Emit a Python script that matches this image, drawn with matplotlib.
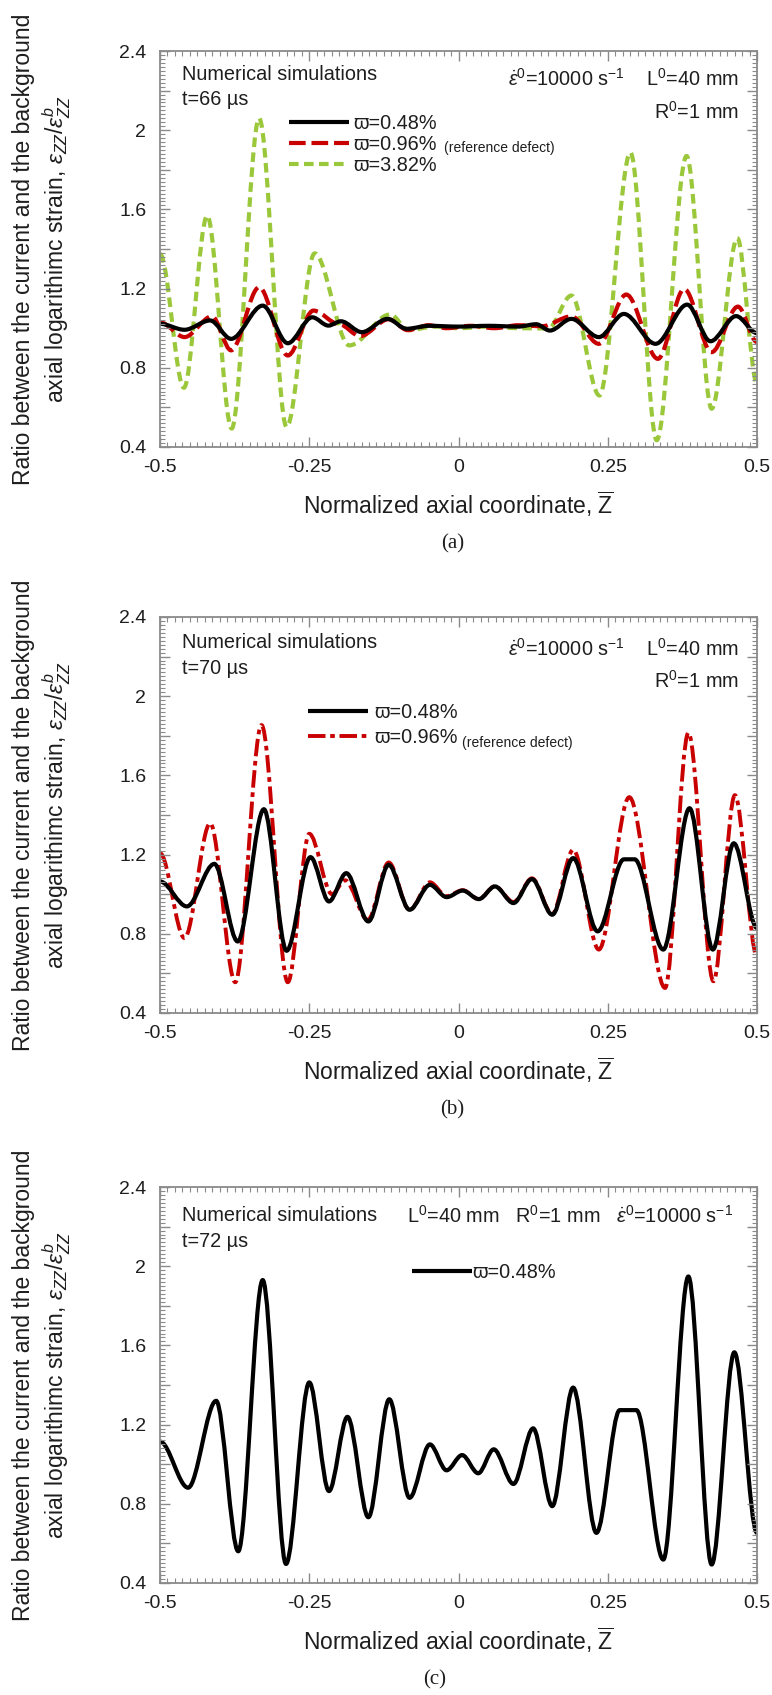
import matplotlib
matplotlib.use("Agg")
import matplotlib.pyplot as plt
from matplotlib.path import Path
from matplotlib.patches import PathPatch
from matplotlib.lines import Line2D
from matplotlib.ticker import MultipleLocator, FuncFormatter

plt.rcParams['font.family'] = ['Liberation Sans', 'DejaVu Sans']
plt.rcParams['mathtext.fontset'] = 'custom'
plt.rcParams['mathtext.rm'] = 'Liberation Sans'
plt.rcParams['mathtext.it'] = 'Liberation Sans:italic'
plt.rcParams['mathtext.bf'] = 'Liberation Sans:bold'

# ---- data: local extrema (Z, ratio) ----
# (a) t = 66 us
a048_z = [-0.5, -0.459, -0.416, -0.381, -0.328, -0.286, -0.245, -0.218, -0.197, -0.162, -0.119,
          -0.087, -0.05, 0.0, 0.05, 0.10, 0.13, 0.153, 0.189, 0.235, 0.277, 0.330, 0.383, 0.422,
          0.465, 0.5]
a048_r = [1.022, 0.992, 1.039, 0.946, 1.114, 0.924, 1.055, 1.013, 1.035, 0.980, 1.047,
          0.997, 1.012, 1.008, 1.012, 1.008, 1.02, 0.988, 1.047, 0.955, 1.072, 0.921, 1.119, 0.934,
          1.061, 0.975]
a096_z = [-0.5, -0.459, -0.413, -0.381, -0.334, -0.286, -0.243, -0.20, -0.165, -0.117, -0.085,
          -0.05, -0.02, 0.02, 0.06, 0.10, 0.14, 0.189, 0.235, 0.281, 0.334, 0.378, 0.424, 0.468, 0.5]
a096_r = [1.03, 0.955, 1.06, 0.888, 1.207, 0.862, 1.089, 1.02, 0.96, 1.045, 0.99,
          1.015, 1.0, 1.012, 1.0, 1.015, 1.01, 1.06, 0.921, 1.17, 0.845, 1.198, 0.879, 1.109, 0.93]
a382_z = [-0.5, -0.46, -0.421, -0.38, -0.334, -0.288, -0.241, -0.183, -0.114, -0.084,
          -0.04, 0.0, 0.05, 0.10, 0.15, 0.189, 0.236, 0.288, 0.332, 0.382, 0.424, 0.467, 0.5]
a382_r = [1.375, 0.699, 1.568, 0.493, 2.06, 0.501, 1.378, 0.913, 1.07, 0.99,
          1.008, 1.0, 1.008, 1.0, 0.998, 1.165, 0.66, 1.887, 0.434, 1.87, 0.593, 1.455, 0.72]

# (b) t = 70 us
b048_z = [-0.5, -0.455, -0.409, -0.370, -0.326, -0.288, -0.248, -0.217, -0.188, -0.151, -0.117,
          -0.082, -0.048, -0.020, 0.007, 0.034, 0.061, 0.092, 0.123, 0.157, 0.192, 0.233, 0.277,
          0.295, 0.343, 0.387, 0.426, 0.461, 0.5]
b048_r = [1.064, 0.938, 1.153, 0.761, 1.429, 0.714, 1.187, 0.963, 1.106, 0.862, 1.148,
          0.921, 1.047, 0.985, 1.018, 0.975, 1.039, 0.955, 1.076, 0.896, 1.182, 0.812, 1.176,
          1.176, 0.72, 1.434, 0.72, 1.257, 0.829]
b096_z = [-0.5, -0.459, -0.416, -0.374, -0.330, -0.286, -0.250, -0.212, -0.19, -0.152, -0.117,
          -0.082, -0.048, -0.020, 0.007, 0.034, 0.061, 0.092, 0.123, 0.157, 0.192, 0.235, 0.286,
          0.346, 0.385, 0.427, 0.463, 0.5]
b096_r = [1.207, 0.778, 1.358, 0.555, 1.854, 0.555, 1.305, 1.0, 1.07, 0.87, 1.16,
          0.92, 1.06, 0.99, 1.02, 0.975, 1.04, 0.96, 1.08, 0.90, 1.224, 0.72, 1.49,
          0.526, 1.815, 0.56, 1.50, 0.686]

# (c) t = 72 us
c048_z = [-0.5, -0.453, -0.406, -0.369, -0.328, -0.289, -0.250, -0.217, -0.186, -0.151, -0.116,
          -0.082, -0.048, -0.020, 0.006, 0.033, 0.059, 0.092, 0.125, 0.157, 0.192, 0.231, 0.270,
          0.298, 0.343, 0.385, 0.424, 0.462, 0.5]
c048_r = [1.114, 0.881, 1.32, 0.56, 1.93, 0.496, 1.413, 0.864, 1.239, 0.732, 1.328,
          0.83, 1.10, 0.969, 1.046, 0.954, 1.075, 0.90, 1.181, 0.788, 1.387, 0.653, 1.273,
          1.273, 0.518, 1.948, 0.493, 1.565, 0.653]

BLACK = '#000000'
RED = '#c80000'
GREEN = '#9bc83a'
FRAME = '#8a8a8a'
TXT = '#1e1e1e'


def curve(ax, z, r, **kw):
    # smooth line through the read extrema (flat tangent at each point)
    verts = [(z[0], r[0])]
    codes = [Path.MOVETO]
    for i in range(1, len(z)):
        d = (z[i] - z[i - 1]) / 3.0
        verts += [(z[i - 1] + d, r[i - 1]), (z[i] - d, r[i]), (z[i], r[i])]
        codes += [Path.CURVE4] * 3
    ax.add_patch(PathPatch(Path(verts, codes), fill=False, capstyle='butt',
                           joinstyle='round', **kw))


def setup(ax):
    ax.set_xlim(-0.5, 0.5)
    ax.set_ylim(0.4, 2.4)
    ax.xaxis.set_major_locator(MultipleLocator(0.25))
    ax.xaxis.set_minor_locator(MultipleLocator(0.0125))
    ax.yaxis.set_major_locator(MultipleLocator(0.2))
    ax.yaxis.set_minor_locator(MultipleLocator(0.02))
    ax.xaxis.set_major_formatter(FuncFormatter(lambda v, p: '%g' % round(v, 3)))
    ax.yaxis.set_major_formatter(FuncFormatter(
        lambda v, p: ('%g' % round(v, 2)) if round(v / 0.4, 3) % 1 == 0 else ''))
    ax.tick_params(which='both', direction='in', top=True, right=True, color=FRAME,
                   labelcolor=TXT, labelsize=14)
    ax.tick_params(which='major', length=7, width=1.0)
    ax.tick_params(which='minor', length=3.5, width=0.8)
    ax.tick_params(axis='x', pad=9)
    ax.tick_params(axis='y', pad=10)
    for s in ax.spines.values():
        s.set_color(FRAME)
        s.set_linewidth(1.3)
    ax.set_xlabel(r'Normalized axial coordinate, $\overline{\mathrm{Z}}$', fontsize=16.5,
                  color=TXT, va='center')
    ax.xaxis.set_label_coords(0.5, -0.144)


fig = plt.figure(figsize=(7.72, 16.95), dpi=100)
L, W, H = 0.2073, 0.7733, 0.2336
ax_a = fig.add_axes([L, 0.7363, W, H])
ax_b = fig.add_axes([L, 0.4024, W, H])
ax_c = fig.add_axes([L, 0.0661, W, H])

ylab = ('Ratio between the current and the background\n'
        r'axial logarithimc strain, $\varepsilon_{ZZ}/\varepsilon_{ZZ}^{b}$')

s_black = dict(edgecolor=BLACK, lw=3.0, linestyle='-')
s_red_a = dict(edgecolor=RED, lw=3.0, linestyle=(0, (4.0, 1.4)))
s_red_b = dict(edgecolor=RED, lw=2.8, linestyle=(0, (4.5, 1.2, 1.2, 1.2)))
s_green = dict(edgecolor=GREEN, lw=3.0, linestyle=(0, (2.3, 1.3)))


def handle(st):
    return Line2D([], [], color=st['edgecolor'], lw=st['lw'], linestyle=st['linestyle'],
                  solid_capstyle='butt', dash_capstyle='butt')


for ax, cap, cx in [(ax_a, '(a)', 0.49), (ax_b, '(b)', 0.49), (ax_c, '(c)', 0.46)]:
    setup(ax)
    pos = ax.get_position()
    fig.text(0.055, pos.y0 + pos.height / 2, ylab, rotation=90, ha='center', va='center',
             multialignment='center', fontsize=16.5, color=TXT, linespacing=1.25)
    ax.text(cx, -0.245, cap, transform=ax.transAxes,
            ha='center', va='center', fontsize=15, family='Liberation Serif', color=TXT)

# (a)
curve(ax_a, a382_z, a382_r, **s_green)
curve(ax_a, a096_z, a096_r, **s_red_a)
curve(ax_a, a048_z, a048_r, **s_black)
ax_a.text(0.036, 0.940, 'Numerical simulations', transform=ax_a.transAxes, fontsize=14.3,
          va='center', color=TXT)
ax_a.text(0.036, 0.877, 't=66 µs', transform=ax_a.transAxes, fontsize=14.3, va='center', color=TXT)
ax_a.text(0.970, 0.929, r'$\dot{\varepsilon}^{0}$=10000 s$^{-1}$    L$^{0}$=40 mm',
          transform=ax_a.transAxes, fontsize=14.3, ha='right', va='center', color=TXT)
ax_a.text(0.970, 0.846, r'R$^{0}$=1 mm', transform=ax_a.transAxes, fontsize=14.3, ha='right',
          va='center', color=TXT)
ax_a.legend([handle(s_black), handle(s_red_a), handle(s_green)],
            ['ϖ=0.48%', 'ϖ=0.96%', 'ϖ=3.82%'], loc='upper left', bbox_to_anchor=(0.216, 0.840),
            frameon=False, fontsize=14.3, handlelength=3.0, handletextpad=0.25,
            labelspacing=0.1, borderpad=0, borderaxespad=0, labelcolor=TXT)
ax_a.text(0.475, 0.755, '(reference defect)', transform=ax_a.transAxes, fontsize=10,
          va='center', color=TXT)

# (b)
curve(ax_b, b096_z, b096_r, **s_red_b)
curve(ax_b, b048_z, b048_r, **s_black)
ax_b.text(0.036, 0.935, 'Numerical simulations', transform=ax_b.transAxes, fontsize=14.3,
          va='center', color=TXT)
ax_b.text(0.036, 0.869, 't=70 µs', transform=ax_b.transAxes, fontsize=14.3, va='center', color=TXT)
ax_b.text(0.970, 0.919, r'$\dot{\varepsilon}^{0}$=10000 s$^{-1}$    L$^{0}$=40 mm',
          transform=ax_b.transAxes, fontsize=14.3, ha='right', va='center', color=TXT)
ax_b.text(0.970, 0.839, r'R$^{0}$=1 mm', transform=ax_b.transAxes, fontsize=14.3, ha='right',
          va='center', color=TXT)
ax_b.legend([handle(s_black), handle(s_red_b)], ['ϖ=0.48%', 'ϖ=0.96%'], loc='upper left',
            bbox_to_anchor=(0.248, 0.782), frameon=False, fontsize=14.3, handlelength=3.0,
            handletextpad=0.35, labelspacing=0.3, borderpad=0, borderaxespad=0, labelcolor=TXT)
ax_b.text(0.505, 0.682, '(reference defect)', transform=ax_b.transAxes, fontsize=10,
          va='center', color=TXT)

# (c)
curve(ax_c, c048_z, c048_r, **s_black)
ax_c.text(0.036, 0.928, 'Numerical simulations', transform=ax_c.transAxes, fontsize=14.3,
          va='center', color=TXT)
ax_c.text(0.036, 0.862, 't=72 µs', transform=ax_c.transAxes, fontsize=14.3, va='center', color=TXT)
ax_c.text(0.960, 0.928,
          r'L$^{0}$=40 mm   R$^{0}$=1 mm   $\dot{\varepsilon}^{0}$=10000 s$^{-1}$',
          transform=ax_c.transAxes, fontsize=14.3, ha='right', va='center', color=TXT)
ax_c.legend([handle(s_black)], ['ϖ=0.48%'], loc='upper left', bbox_to_anchor=(0.422, 0.808),
            frameon=False, fontsize=14.3, handlelength=3.0, handletextpad=0.05,
            borderpad=0, borderaxespad=0, labelcolor=TXT)

fig.savefig('out.png', dpi=100, facecolor='white')
